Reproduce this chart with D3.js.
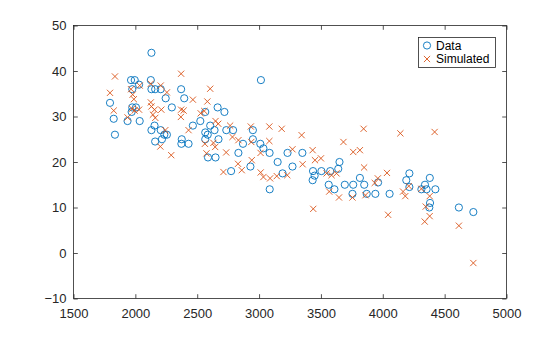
<!DOCTYPE html>
<html>
<head>
<meta charset="utf-8">
<script src="https://cdn.jsdelivr.net/npm/d3@7"></script>
<style>
  html, body { margin: 0; padding: 0; background: #fff; }
  svg { display: block; font-family: "Liberation Sans", Arial, Helvetica, sans-serif; }
</style>
</head>
<body>
<svg id="chart" width="560" height="337"></svg>
<script>
// Vehicle weight vs. fuel economy: measured values and values simulated from a fitted model
const dataWeight = [
  3504, 3693, 3436, 3433, 3449, 4341, 4354, 4312, 4425, 3850, 3563, 3609, 3761, 3086,
  2372, 2833, 2774, 2587, 2130, 1835, 2672, 2430, 2375, 2234, 2648, 4615, 4376, 4382, 4732,
  1795, 1825, 1965, 1995, 2030, 1975, 1975, 2005, 1970, 1937, 2035, 2125, 2130, 2160, 2205,
  2245, 2295, 2370, 2395, 2130, 2155, 2205, 2215, 2160, 2255, 2465, 2525, 2565, 2665, 2720,
  2605, 2640, 2565, 2585, 2565, 2735, 2790, 2950, 2950, 2870, 3010, 3035, 3085, 3230, 3350,
  2930, 3150, 3270, 3190, 3015, 3575, 3640, 3650, 3755, 3815, 3870, 3940, 3962, 4055, 4215,
  4190, 4215, 4380
];
const dataMPG = [
  18, 15, 18, 16, 17, 15, 14, 14, 14, 15, 15, 14, 15, 14,
  24, 22, 18, 21, 27, 26, 25, 24, 25, 26, 21, 10, 10, 11, 9,
  33, 29.5, 38, 38, 37, 36, 32, 32, 31, 29, 29, 38, 36, 36, 36,
  34, 32, 36, 34, 44, 28, 27, 25, 24.5, 26, 28, 29, 31, 32, 31,
  28, 27, 26.5, 26, 25, 27, 27, 27, 25, 24, 24, 23, 22, 22, 22,
  19, 20, 19, 17.5, 38, 18, 18.5, 20, 13, 16.5, 13, 13, 15.5, 13, 17.5,
  16, 14.5, 16.5
];

const simWeight = [
  1835, 1795, 1825, 1937, 1965, 1978, 1988, 2035, 2030, 1973, 1994, 2125, 2205, 2255,
  2370, 2465, 2125, 2130, 2155, 2142, 2161, 2210, 2370, 2390, 2368, 2528, 2557, 2582,
  2605, 2648, 2670, 2766, 2242, 2202, 2290, 2430, 2562, 2631, 2645, 2575, 2734, 2830,
  2785, 2833, 2937, 3012, 3083, 2941, 2860, 2712, 3013, 3035, 3089, 3143, 3228, 3270,
  3344, 3352, 2933, 3083, 3183, 3845, 4142, 3682, 3433, 3761, 3815, 3452, 3500, 3849,
  4034, 3960, 3935, 3546, 3586, 3626, 3567, 3646, 3755, 3860, 3438, 4164, 4182, 4210,
  4419, 4312, 4379, 4347, 4379, 4339, 4615, 4732, 4043
];
const simMPG = [
  38.8, 35.2, 31.3, 29.8, 36, 34.8, 33.8, 36.8, 31.5, 31.7, 31.3, 37.2, 36.8, 35.3,
  39.4, 33.7, 33.1, 32.2, 31.5, 30.4, 29.7, 31.5, 31.5, 31.3, 29.9, 30.7, 31.2, 33.3,
  36.1, 29, 28.4, 28, 27, 23.4, 21.5, 27, 24, 24.2, 23.3, 21.9, 22.1, 19.6,
  25.5, 24.8, 24.4, 22, 24.6, 20.4, 18.2, 17.8, 17.7, 16.7, 16.4, 16.9, 17.1, 22.8,
  25.9, 19.5, 27.8, 27.8, 27.3, 27.3, 26.3, 24.4, 22.6, 22.2, 22.6, 20.4, 20.8, 18.8,
  17.6, 16.4, 15.4, 17.5, 17.1, 17.5, 13.5, 12.2, 12.2, 12.7, 9.7, 13.5, 12.5, 14.7,
  26.6, 14.1, 12.5, 10.2, 8.1, 6.9, 6.0, -2.2, 8.4
];

const xTicks = [1500, 2000, 2500, 3000, 3500, 4000, 4500, 5000];
const yTicks = [-10, 0, 10, 20, 30, 40, 50];
const seriesNames = ["Data", "Simulated"];
const seriesColors = ["#0072BD", "#D95319"];

const svg = d3.select("#chart");
const axisColor = "#262626";
const box = { left: 73.5, right: 506.5, top: 25.5, bottom: 298.5 };

const x = d3.scaleLinear().domain([1500, 5000]).range([box.left, box.right]);
const y = d3.scaleLinear().domain([-10, 50]).range([box.bottom, box.top]);

const tick = 4.3;

// Axes with inward ticks on all four sides
function styleAxis(g, showLabels) {
  g.select(".domain").remove();
  g.selectAll(".tick line").attr("stroke", axisColor).attr("stroke-width", 0.8);
  g.selectAll(".tick text")
    .attr("fill", axisColor)
    .style("font-size", "13px")
    .style("font-family", "'Liberation Sans', Arial, Helvetica, sans-serif");
  if (!showLabels) g.selectAll(".tick text").remove();
}

svg.append("g")
  .attr("transform", `translate(0,${box.bottom})`)
  .call(d3.axisBottom(x).tickValues(xTicks).tickFormat(d3.format("d")).tickSize(-tick).tickPadding(10))
  .call(g => styleAxis(g, true));

svg.append("g")
  .attr("transform", `translate(0,${box.top})`)
  .call(d3.axisTop(x).tickValues(xTicks).tickSize(-tick))
  .call(g => styleAxis(g, false));

svg.append("g")
  .attr("transform", `translate(${box.left},0)`)
  .call(d3.axisLeft(y).tickValues(yTicks).tickFormat(d3.format("d")).tickSize(-tick).tickPadding(7))
  .call(g => styleAxis(g, true));

svg.append("g")
  .attr("transform", `translate(${box.right},0)`)
  .call(d3.axisRight(y).tickValues(yTicks).tickSize(-tick))
  .call(g => styleAxis(g, false));

// Axes box
svg.append("rect")
  .attr("x", box.left).attr("y", box.top)
  .attr("width", box.right - box.left).attr("height", box.bottom - box.top)
  .attr("fill", "none").attr("stroke", axisColor).attr("stroke-width", 0.8);

// Measured values: open circles
const data = dataWeight.map((w, i) => ({ w, v: dataMPG[i] }));
svg.append("g").selectAll("circle")
  .data(data)
  .join("circle")
  .attr("cx", d => x(d.w))
  .attr("cy", d => y(d.v))
  .attr("r", 3.6)
  .attr("fill", "none")
  .attr("stroke", seriesColors[0])
  .attr("stroke-width", 0.9);

// Simulated values: x markers
const sim = simWeight.map((w, i) => ({ w, v: simMPG[i] }));
const s = 3.1;
svg.append("g").selectAll("path")
  .data(sim)
  .join("path")
  .attr("d", d => {
    const cx = x(d.w), cy = y(d.v);
    return `M${cx - s},${cy - s}L${cx + s},${cy + s}M${cx - s},${cy + s}L${cx + s},${cy - s}`;
  })
  .attr("fill", "none")
  .attr("stroke", seriesColors[1])
  .attr("stroke-width", 0.9);

// Legend
const lg = svg.append("g").attr("transform", "translate(418.5,37.5)");
lg.append("rect")
  .attr("width", 77).attr("height", 30)
  .attr("fill", "#fff").attr("stroke", axisColor).attr("stroke-width", 0.8);
lg.append("circle")
  .attr("cx", 8.5).attr("cy", 8)
  .attr("r", 3.6).attr("fill", "none")
  .attr("stroke", seriesColors[0]).attr("stroke-width", 0.9);
lg.append("path")
  .attr("d", `M${8.5 - s},${21.5 - s}L${8.5 + s},${21.5 + s}M${8.5 - s},${21.5 + s}L${8.5 + s},${21.5 - s}`)
  .attr("stroke", seriesColors[1]).attr("stroke-width", 0.9);
lg.selectAll("text")
  .data(seriesNames)
  .join("text")
  .attr("x", 17.5)
  .attr("y", (d, i) => 8 + i * 13.5)
  .attr("dy", "0.35em")
  .attr("fill", "#000")
  .style("font-size", "12px")
  .text(d => d);
</script>
</body>
</html>
